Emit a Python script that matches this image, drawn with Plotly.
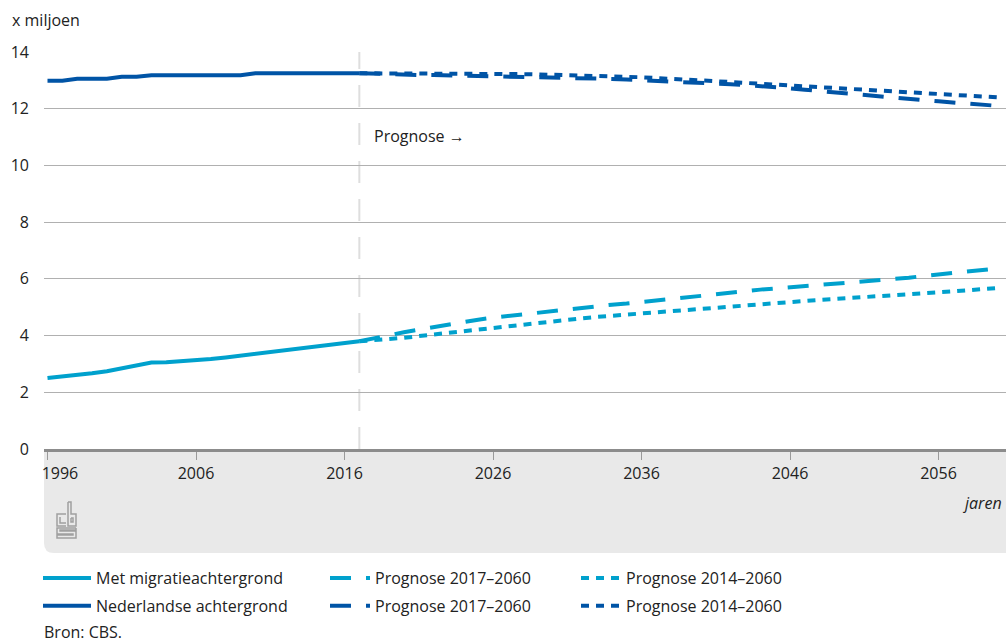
import plotly.graph_objects as go

# ---------------- data ----------------
years_hist = list(range(1996, 2018))
mig_hist = [2.50, 2.55, 2.60, 2.67, 2.74, 2.84, 2.92, 3.05, 3.06, 3.10, 3.11,
            3.17, 3.23, 3.29, 3.35, 3.41, 3.47, 3.53, 3.59, 3.65, 3.72, 3.80]
ned_hist = [12.99, 12.99, 13.06, 13.06, 13.06, 13.13, 13.13, 13.18, 13.18, 13.18, 13.18,
            13.18, 13.18, 13.18, 13.25, 13.25, 13.25, 13.25, 13.25, 13.25, 13.25, 13.25]

years_proj = list(range(2017, 2061))
mig_p17 = [3.80, 3.92, 4.01, 4.12, 4.21, 4.30, 4.40, 4.49, 4.56, 4.63, 4.69, 4.75, 4.80, 4.87,
           4.92, 4.98, 5.04, 5.09, 5.13, 5.18, 5.22, 5.28, 5.33, 5.40, 5.46, 5.52, 5.57, 5.62,
           5.66, 5.70, 5.74, 5.80, 5.85, 5.89, 5.93, 5.96, 6.00, 6.04, 6.10, 6.15, 6.20, 6.25,
           6.31, 6.37]
mig_p14 = [3.80, 3.83, 3.86, 3.92, 3.98, 4.04, 4.10, 4.16, 4.22, 4.28, 4.33, 4.39, 4.46, 4.52,
           4.56, 4.61, 4.66, 4.70, 4.74, 4.78, 4.83, 4.88, 4.92, 4.96, 5.00, 5.04, 5.09, 5.13,
           5.16, 5.20, 5.23, 5.26, 5.29, 5.32, 5.36, 5.40, 5.44, 5.47, 5.50, 5.53, 5.56, 5.60,
           5.64, 5.68]
ned_p17 = [13.25, 13.23, 13.21, 13.20, 13.19, 13.19, 13.18, 13.18, 13.17, 13.16, 13.15, 13.14,
           13.13, 13.12, 13.11, 13.09, 13.07, 13.05, 13.03, 13.01, 12.99, 12.97, 12.94, 12.92,
           12.89, 12.86, 12.83, 12.80, 12.77, 12.72, 12.67, 12.62, 12.57, 12.52, 12.48, 12.43,
           12.39, 12.34, 12.30, 12.26, 12.22, 12.18, 12.14, 12.10]
ned_p14 = [13.25, 13.25, 13.25, 13.25, 13.25, 13.25, 13.24, 13.24, 13.24, 13.23, 13.23, 13.22,
           13.21, 13.20, 13.19, 13.18, 13.16, 13.15, 13.13, 13.11, 13.08, 13.06, 13.03, 13.00,
           12.97, 12.94, 12.91, 12.88, 12.85, 12.82, 12.79, 12.76, 12.73, 12.70, 12.67, 12.64,
           12.61, 12.58, 12.55, 12.52, 12.49, 12.46, 12.43, 12.40]

x_ticks = [1996, 2006, 2016, 2026, 2036, 2046, 2056]
# first label is nudged right (kept inside the band), as in the original
x_tick_labels = ["\u00a0" * 6 + "1996", "2006", "2016", "2026", "2036", "2046", "2056"]
y_ticks = [0, 2, 4, 6, 8, 10, 12, 14]
prognose_start = 2017

LIGHT = "#00A1CD"
DARK = "#0054A6"
FONT = "Open Sans"
TXT = "#222222"

W, H = 1006, 642
PLOT_L, PLOT_R, PLOT_T, PLOT_B = 44, 1006, 52, 449
L, T, R, B = PLOT_L, PLOT_T, W - PLOT_R, H - PLOT_B
PW, PH = PLOT_R - PLOT_L, PLOT_B - PLOT_T


def px(xp):
    return (xp - PLOT_L) / PW


def py(yp):
    return (PLOT_B - yp) / PH


fig = go.Figure()

lw = 4
fig.add_trace(go.Scatter(x=years_hist, y=mig_hist, mode="lines", name="Met migratieachtergrond",
                         line=dict(color=LIGHT, width=lw), legend="legend", legendgroup="a"))
fig.add_trace(go.Scatter(x=years_hist, y=ned_hist, mode="lines", name="Nederlandse achtergrond",
                         line=dict(color=DARK, width=lw), legend="legend", legendgroup="b"))
fig.add_trace(go.Scatter(x=years_proj, y=mig_p17, mode="lines", name="Prognose 2017–2060",
                         line=dict(color=LIGHT, width=lw, dash="21px,15px"), legend="legend2", legendgroup="c"))
fig.add_trace(go.Scatter(x=years_proj, y=ned_p17, mode="lines", name="Prognose 2017–2060",
                         line=dict(color=DARK, width=lw, dash="21px,15px"), legend="legend2", legendgroup="d"))
fig.add_trace(go.Scatter(x=years_proj, y=mig_p14, mode="lines", name="Prognose 2014–2060",
                         line=dict(color=LIGHT, width=lw, dash="8px,7px"), legend="legend3", legendgroup="e"))
fig.add_trace(go.Scatter(x=years_proj, y=ned_p14, mode="lines", name="Prognose 2014–2060",
                         line=dict(color=DARK, width=lw, dash="8px,7px"), legend="legend3", legendgroup="f"))

x0 = 2006 - (196 - PLOT_L) / 14.85
x1 = 2006 + (PLOT_R - 196) / 14.85

shapes = []
# grey band under the axis with rounded bottom-left corner
r = 10
band_bottom = 553
shapes.append(dict(
    type="path", xref="paper", yref="paper", layer="below",
    path=(f"M {px(PLOT_L)},{py(PLOT_B)} L {px(PLOT_R)},{py(PLOT_B)} L {px(PLOT_R)},{py(band_bottom)} "
          f"L {px(PLOT_L + r)},{py(band_bottom)} Q {px(PLOT_L)},{py(band_bottom)} "
          f"{px(PLOT_L)},{py(band_bottom - r)} Z"),
    fillcolor="#e9e9e9", line=dict(width=0)))
# prognosis divider
shapes.append(dict(type="line", xref="x", yref="paper", x0=prognose_start, x1=prognose_start,
                   y0=0, y1=1, layer="below", line=dict(color="#dedede", width=2, dash="22px,16px")))

# CBS logo (small outline glyph)
logo_col = "#a0a0a0"
lx, ly = 57, 502


def lp(points):
    return "M " + " L ".join(f"{px(lx + a)},{py(ly + b)}" for a, b in points)


logo_paths = [
    lp([(9, 12), (0, 12), (0, 24), (9, 24)]),
    lp([(3, 15), (3, 21), (9, 21)]),
    lp([(11, 0), (11, 24), (19, 24), (19, 12), (14, 12), (14, 0), (11, 0)]),
    lp([(14, 16), (16, 16), (16, 20), (14, 20), (14, 16)]),
    lp([(19, 26), (0, 26), (0, 32), (16, 32), (16, 33), (0, 33), (0, 36), (19, 36), (19, 29),
        (3, 29), (3, 28), (19, 28), (19, 26)]),
]
for p in logo_paths:
    shapes.append(dict(type="path", xref="paper", yref="paper", path=p,
                       line=dict(color=logo_col, width=1.5)))

annotations = [
    dict(text="x miljoen", xref="paper", yref="paper", x=px(10), y=py(20), xanchor="left",
         yanchor="middle", showarrow=False, font=dict(family=FONT, size=16, color=TXT)),
    dict(text="Prognose →", xref="x", yref="y", x=prognose_start, y=11.05, xanchor="left",
         xshift=13, yanchor="middle", showarrow=False, bgcolor="white",
         font=dict(family=FONT, size=16, color=TXT)),
    dict(text="<i>jaren</i>", xref="paper", yref="paper", x=px(1004), y=py(503), xanchor="right",
         yanchor="middle", showarrow=False, font=dict(family=FONT, size=16, color=TXT)),
    dict(text="Bron: CBS.", xref="paper", yref="paper", x=px(42), y=py(632), xanchor="left",
         yanchor="middle", showarrow=False, font=dict(family=FONT, size=16, color=TXT)),
]

leg_common = dict(orientation="v", yanchor="top", xanchor="left", bgcolor="rgba(0,0,0,0)",
                  font=dict(family=FONT, size=16, color=TXT), tracegroupgap=4)

fig.update_layout(
    width=W, height=H,
    margin=dict(l=L, r=R, t=T, b=B, pad=0),
    paper_bgcolor="white", plot_bgcolor="white",
    font=dict(family=FONT, size=16, color=TXT),
    showlegend=True,
    legend=dict(x=px(38), y=py(561), itemwidth=48, **leg_common),
    legend2=dict(x=px(325), y=py(561), itemwidth=40, **leg_common),
    legend3=dict(x=px(576), y=py(561), itemwidth=40, **leg_common),
    xaxis=dict(range=[x0, x1], tickvals=x_ticks, ticktext=x_tick_labels, ticks="outside",
               ticklen=8, tickwidth=1, tickcolor="#9a9a9a", showgrid=False, zeroline=False,
               showline=True, linewidth=3, linecolor="#8c8c8c",
               tickfont=dict(family=FONT, size=16, color=TXT)),
    yaxis=dict(range=[0, 14], tickvals=y_ticks, showgrid=True, gridcolor="#b0b0b0", gridwidth=1,
               zeroline=False, showline=False, ticks="", ticklabelstandoff=14,
               tickfont=dict(family=FONT, size=16, color=TXT)),
    shapes=shapes,
    annotations=annotations,
)

fig.write_html("out.html", config={"displayModeBar": False},
               post_script="document.body.style.margin='0';document.body.style.overflow='hidden';")
